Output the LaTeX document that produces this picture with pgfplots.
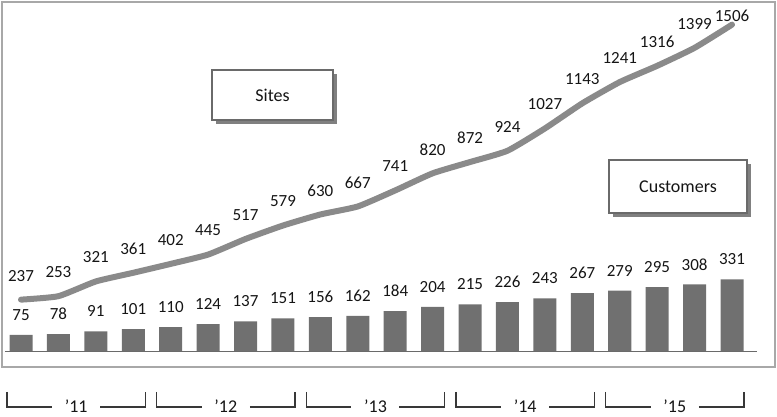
\documentclass[border=0pt]{standalone}
\usepackage{pgfplots}
\pgfplotsset{compat=1.18}
\usepackage{pgfplotstable}
\usepackage{fontspec}
\setmainfont{Carlito}

\definecolor{framegray}{HTML}{A8A8A8}
\definecolor{bargray}{HTML}{707070}
\definecolor{linegray}{HTML}{8A8A8A}
\definecolor{txt}{HTML}{151515}
\definecolor{boxedge}{HTML}{6A6A6A}
\definecolor{shadowgray}{HTML}{808080}

% quarter index, sites, label offset for sites, customers
\pgfplotstableread{
q  sites off customers
0  237   24  75
1  253   24  78
2  321   24  91
3  361   24  101
4  402   24  110
5  445   24  124
6  517   24  137
7  579   24  151
8  630   24  156
9  667   24  162
10 741   24  184
11 820   24  204
12 872   24  215
13 924   24  226
14 1027  24  243
15 1143  24  267
16 1241  24  279
17 1316  24  295
18 1399  24  308
19 1506  9   331
}\data

\begin{document}
\begin{tikzpicture}[font=\fontsize{17}{20}\selectfont]
\path[use as bounding box] (0,0) rectangle (777pt,417pt);
\begin{axis}[
  at={(2pt,50pt)}, anchor=south west,
  width=773pt, height=365pt, scale only axis,
  xmin=-0.508, xmax=20.149,
  ymin=-73.8, ymax=1610.5,
  ticks=none, clip=false,
  axis line style={draw=framegray, line width=1.3pt},
  /pgf/number format/assume math mode=true,
  /pgf/number format/1000 sep={},
]
% baseline
\draw[color=boxedge, line width=1pt] (axis cs:-0.43,0) -- (axis cs:19.67,0);

% customers
\addplot[ybar, bar width=0.615, bar shift=0pt, fill=bargray, draw=none,
  nodes near coords,
  nodes near coords style={anchor=center, yshift=20pt, text=txt,
    font=\fontsize{17}{20}\selectfont}]
  table[x=q, y=customers]{\data};

% sites
\addplot[color=linegray, line width=6pt, line cap=round, smooth, tension=0.3,
  mark=none,
  nodes near coords,
  visualization depends on={\thisrow{off} \as \off},
  every node near coord/.append style={anchor=center, yshift=\off pt,
    text=txt, font=\fontsize{17}{20}\selectfont}]
  table[x=q, y=sites]{\data};
\end{axis}

% year brackets below the frame (one per four quarters)
\foreach \k/\yr in {0/'11,1/'12,2/'13,3/'14,4/'15} {
  \pgfmathsetmacro{\xa}{21+37.42*4*\k-14}
  \pgfmathsetmacro{\xb}{21+37.42*(4*\k+3)+12}
  \pgfmathsetmacro{\xm}{(\xa+\xb)/2}
  \pgfmathsetmacro{\gl}{\xm-24}
  \pgfmathsetmacro{\gr}{\xm+24}
  \draw[color=txt!85, line width=1.3pt]
    (\xa pt,25pt) -- (\xa pt,10pt) -- (\gl pt,10pt);
  \draw[color=txt!85, line width=1.3pt]
    (\gr pt,10pt) -- (\xb pt,10pt) -- (\xb pt,25pt);
  \node[text=txt, anchor=center, font=\fontsize{18}{21}\selectfont] at (\xm pt,11pt) {\yr};
}

% series captions
\fill[shadowgray] (216pt,293pt) rectangle (337pt,343pt);
\draw[boxedge, line width=1.2pt, fill=white] (212pt,297pt) rectangle (333pt,347pt);
\node[text=txt, font=\fontsize{18}{21}\selectfont] at (272.5pt,322pt) {Sites};

\fill[shadowgray] (613pt,200pt) rectangle (751pt,253pt);
\draw[boxedge, line width=1.2pt, fill=white] (609pt,204pt) rectangle (747pt,257pt);
\node[text=txt, font=\fontsize{18}{21}\selectfont] at (678pt,230.5pt) {Customers};
\end{tikzpicture}
\end{document}
